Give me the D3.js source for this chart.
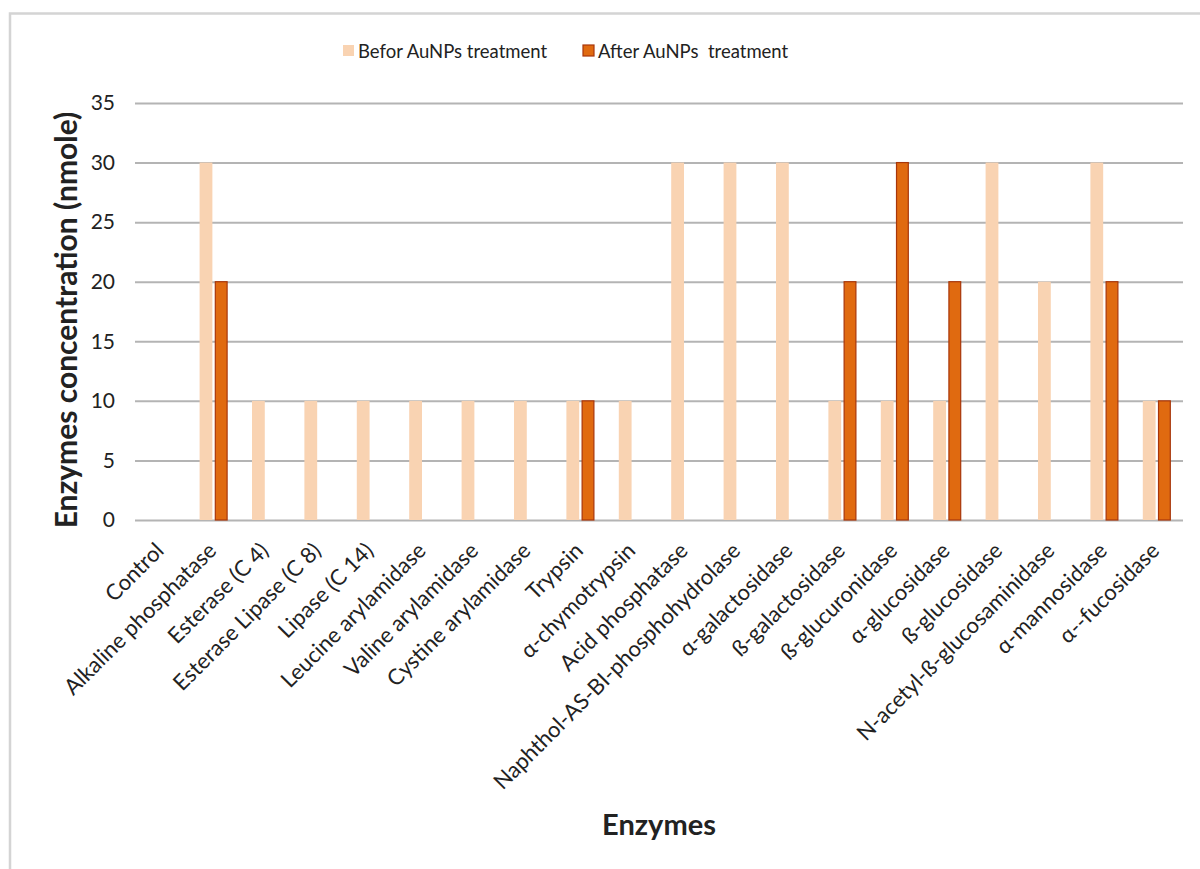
<!DOCTYPE html>
<html>
<head>
<meta charset="utf-8">
<script src="https://cdn.jsdelivr.net/npm/d3@7"></script>
<style>
  html, body { margin: 0; padding: 0; background: #fff; }
  svg { display: block; }
  text { font-family: Lato, "Open Sans", sans-serif; fill: #222; }
</style>
</head>
<body>
<svg id="chart" width="1200" height="869"></svg>
<script>
// Enzyme activity profile (API ZYM strip) before and after AuNPs treatment
const enzymes = [
  "Control", "Alkaline phosphatase", "Esterase (C 4)", "Esterase Lipase (C 8)",
  "Lipase (C 14)", "Leucine arylamidase", "Valine arylamidase", "Cystine arylamidase",
  "Trypsin", "α-chymotrypsin", "Acid phosphatase", "Naphthol-AS-BI-phosphohydrolase",
  "α-galactosidase", "ß-galactosidase", "ß-glucuronidase", "α-glucosidase",
  "ß-glucosidase", "N-acetyl-ß-glucosaminidase", "α-mannosidase", "α--fucosidase"
];
const beforeValues = [0, 30, 10, 10, 10, 10, 10, 10, 10, 10, 30, 30, 30, 10, 10, 10, 30, 20, 30, 10];
const afterValues  = [0, 20, 0, 0, 0, 0, 0, 0, 10, 0, 0, 0, 0, 20, 30, 20, 0, 0, 20, 10];
const seriesNames = ["Befor AuNPs treatment", "After AuNPs  treatment"];
const yTicks = [0, 5, 10, 15, 20, 25, 30, 35];

const rows = enzymes.map((name, i) => ({ name, values: [beforeValues[i], afterValues[i]] }));

const svg = d3.select("#chart");
const margin = { left: 135, right: 17, top: 103, bottom: 349 };
const W = 1200, H = 869;
const plotW = W - margin.left - margin.right;
const plotH = H - margin.top - margin.bottom;

const fills = ["#f9d3b2", "#e06a10"];
const strokes = ["none", "#a8360a"];

// outer frame (left and top edges)
svg.append("path")
  .attr("d", `M10,${H} L10,13.5 L${W},13.5`)
  .attr("fill", "none")
  .attr("stroke", "#d4d4d4")
  .attr("stroke-width", 2.5);

const x = d3.scaleBand().domain(enzymes).range([0, plotW]).paddingInner(0).paddingOuter(0);
const xs = d3.scaleBand().domain([0, 1]).range([x.bandwidth() / 2 - 14, x.bandwidth() / 2 + 14]).paddingInner(0.16);
const y = d3.scaleLinear().domain([0, 35]).range([plotH, 0]);

const g = svg.append("g").attr("transform", `translate(${margin.left},${margin.top})`);

// horizontal gridlines
const yAxis = d3.axisLeft(y).tickValues(yTicks).tickSize(-plotW).tickPadding(20);
const ya = g.append("g").call(yAxis);
ya.select(".domain").remove();
ya.selectAll(".tick line").attr("stroke", "#b4b4b4").attr("stroke-width", 2);
ya.selectAll(".tick text")
  .attr("font-size", 21)
  .attr("font-family", "Lato, sans-serif")
  .attr("fill", "#333");

// bars
const groups = g.selectAll(".grp").data(rows).join("g")
  .attr("transform", d => `translate(${x(d.name)},0)`);
groups.selectAll("rect")
  .data(d => d.values.map((v, k) => ({ v, k })).filter(e => e.v > 0))
  .join("rect")
  .attr("x", e => xs(e.k) + (e.k === 1 ? 0.5 : 0))
  .attr("width", e => xs.bandwidth() - (e.k === 1 ? 1 : 0))
  .attr("y", e => y(e.v))
  .attr("height", e => y(0) - y(e.v))
  .attr("fill", e => fills[e.k])
  .attr("stroke", e => strokes[e.k])
  .attr("stroke-width", 1.2);

// category axis
const xAxis = d3.axisBottom(x).tickSize(0).tickPadding(0);
const xa = g.append("g").attr("transform", `translate(0,${plotH})`).call(xAxis);
xa.select(".domain").remove();
xa.selectAll(".tick text")
  .attr("font-size", 22)
  .attr("font-family", "Lato, sans-serif")
  .attr("fill", "#222")
  .attr("text-anchor", "end")
  .attr("dy", 0)
  .attr("y", 0)
  .attr("transform", "translate(4,32) rotate(-45)");

// axis titles
svg.append("text")
  .attr("transform", `translate(77,320) rotate(-90)`)
  .attr("text-anchor", "middle")
  .attr("font-size", 30)
  .attr("font-weight", "bold")
  .attr("fill", "#111")
  .text("Enzymes concentration (nmole)");

svg.append("text")
  .attr("x", 659)
  .attr("y", 835)
  .attr("text-anchor", "middle")
  .attr("font-size", 29)
  .attr("font-weight", "bold")
  .attr("fill", "#111")
  .text("Enzymes");

// legend
const legendX = [343, 583];
const legend = svg.append("g");
seriesNames.forEach((name, k) => {
  legend.append("rect")
    .attr("x", legendX[k]).attr("y", 45)
    .attr("width", 11).attr("height", 11)
    .attr("fill", fills[k])
    .attr("stroke", strokes[k]).attr("stroke-width", 1.2);
  legend.append("text")
    .attr("x", legendX[k] + 15).attr("y", 58)
    .attr("font-size", 18.5)
    .attr("fill", "#222")
    .attr("xml:space", "preserve")
    .style("white-space", "pre")
    .text(name);
});
</script>
</body>
</html>
